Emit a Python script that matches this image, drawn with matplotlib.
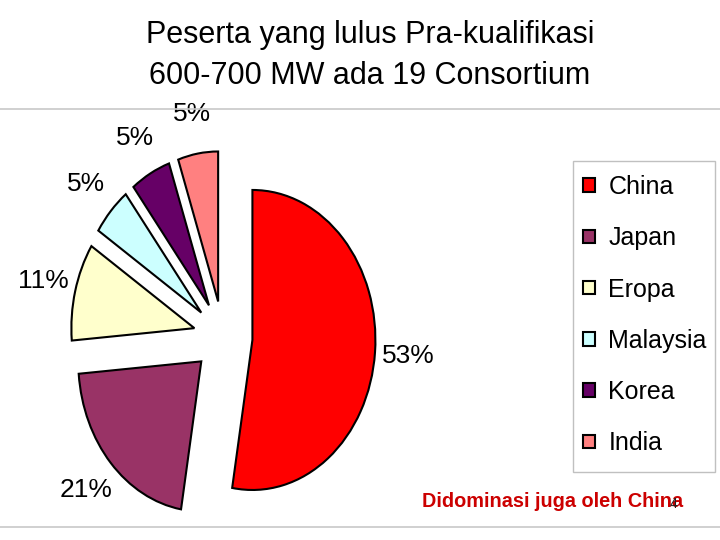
import matplotlib
matplotlib.use("Agg")
import matplotlib.pyplot as plt
from matplotlib.lines import Line2D
from matplotlib.patches import Rectangle

# ---- data ----
countries = ["China", "Japan", "Eropa", "Malaysia", "Korea", "India"]
consortium_counts = [10, 4, 2, 1, 1, 1]
colors = ["#FF0000", "#993366", "#FFFFCC", "#CCFFFF", "#660066", "#FF8080"]
title_lines = ["Peserta yang lulus Pra-kualifikasi", "600-700 MW ada 19 Consortium"]
note_text = "Didominasi juga oleh China"
page_number = "4"

W, H = 720, 540
fig = plt.figure(figsize=(W / 100, H / 100), dpi=100)
fig.patch.set_facecolor("white")

regular = ["Liberation Sans", "DejaVu Sans"]

# full-figure axes; pie centre at (223, 337) px, rx=123 px, ry=150 px
ax = fig.add_axes([0, 0, 1, 1])
cx, cy, rx, ry = 223.0, 337.0, 123.0, 150.0
wedges, texts, autotexts = ax.pie(
    consortium_counts,
    colors=colors,
    startangle=90,
    counterclock=False,
    explode=[0.24] * len(consortium_counts),
    autopct="%1.0f%%",
    pctdistance=1.27,
    wedgeprops=dict(edgecolor="black", linewidth=1.5),
    textprops=dict(fontsize=19, family=regular, color="black"),
)
ax.set_aspect("auto")
ax.set_xlim(-cx / rx, (W - cx) / rx)
ax.set_ylim(-(H - cy) / ry, cy / ry)
ax.axis("off")

# legend frame
fig.add_artist(Rectangle((573 / W, 1 - 472 / H), (715 - 573) / W, (472 - 161) / H,
                         transform=fig.transFigure, facecolor="none",
                         edgecolor="#C0C0C0", linewidth=1.0))
# legend entries
leg = fig.legend(
    wedges, countries,
    loc="upper left",
    bbox_to_anchor=(573 / W, 1 - 165 / H),
    bbox_transform=fig.transFigure,
    borderaxespad=0,
    prop=dict(family=regular, size=18),
    handlelength=0.46, handleheight=0.46, handletextpad=0.56,
    labelspacing=1.09, borderpad=0.4,
    frameon=False,
)

# title
fig.text(370 / W, 1 - 43.5 / H, title_lines[0], ha="center", va="baseline",
         fontsize=22, family=regular, color="black")
fig.text(370 / W, 1 - 84 / H, title_lines[1], ha="center", va="baseline",
         fontsize=22, family=regular, color="black")

# separator lines
fig.add_artist(Line2D([0, 1], [1 - 109 / H, 1 - 109 / H], transform=fig.transFigure,
                      color="#C8C8C8", linewidth=1.2))
fig.add_artist(Line2D([0, 1], [1 - 527 / H, 1 - 527 / H], transform=fig.transFigure,
                      color="#C8C8C8", linewidth=1.2))

# note and page number
fig.text(422 / W, 1 - 507 / H, note_text, ha="left", va="baseline",
         fontsize=14.3, fontweight="bold", family=regular, color="#CC0000")
fig.text(673 / W, 1 - 508 / H, page_number, ha="center", va="baseline",
         fontsize=10, family=regular, color="#222222")

fig.savefig("out.png", dpi=100, facecolor="white")
